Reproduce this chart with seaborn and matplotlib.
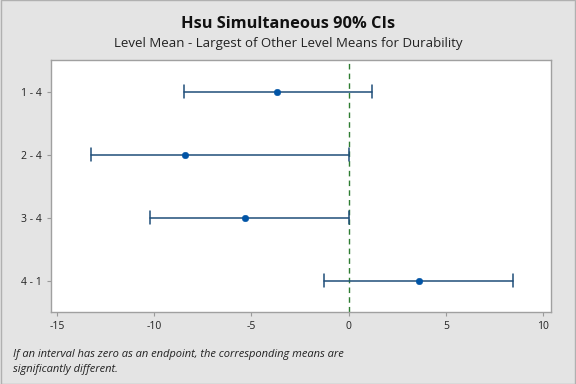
import numpy as np
import pandas as pd
import matplotlib
matplotlib.use("Agg")
import matplotlib.pyplot as plt
import seaborn as sns

# Hsu MCB intervals
labels = ["1 - 4", "2 - 4", "3 - 4", "4 - 1"]
centers = [-3.66, -8.40, -5.31, 3.61]
lower = [-8.45, -13.25, -10.20, -1.24]
upper = [1.19, 0.0, 0.0, 8.45]
xticks = [-15, -10, -5, 0, 5, 10]

df = pd.DataFrame({"label": labels, "center": centers, "lower": lower, "upper": upper})
df["pos"] = np.arange(1, len(df) + 1)

sns.set_style("white")
plt.rcParams["font.family"] = ["Open Sans", "DejaVu Sans"]

line_color = "#1f4e79"
dot_color = "#0054a6"
bg = "#e4e4e4"

fig = plt.figure(figsize=(5.76, 3.84), dpi=100, facecolor=bg)
ax = fig.add_axes([0.0885, 0.1875, 0.868, 0.656])
ax.set_facecolor("white")

cap = 0.1
for _, r in df.iterrows():
    ax.plot([r["lower"], r["upper"]], [r["pos"], r["pos"]], color=line_color, lw=1.1)
    ax.plot([r["lower"]] * 2, [r["pos"] - cap, r["pos"] + cap], color=line_color, lw=1.1)
    ax.plot([r["upper"]] * 2, [r["pos"] - cap, r["pos"] + cap], color=line_color, lw=1.1)

sns.scatterplot(data=df, x="center", y="pos", ax=ax, color=dot_color, s=22,
                edgecolor=dot_color, zorder=3, legend=False)

ax.axvline(0, color="#2e7d32", lw=1.0, ls=(0, (4, 3)), zorder=1)

ax.set_xlim(-15.3, 10.4)
ax.set_ylim(4.5, 0.5)
ax.set_xticks(xticks)
ax.set_xticklabels([str(t) for t in xticks])
ax.set_yticks(df["pos"])
ax.set_yticklabels(labels)
ax.set_xlabel("")
ax.set_ylabel("")
ax.tick_params(axis="both", labelsize=7.5, length=3, width=0.8,
               direction="out", left=True, bottom=True,
               colors="#9a9a9a", labelcolor="#222222")
for sp in ax.spines.values():
    sp.set_color("#a0a0a0")
    sp.set_linewidth(1.0)

fig.text(0.5, 0.937, "Hsu Simultaneous 90% CIs", ha="center", va="center",
         fontsize=11.8, fontweight="bold", color="#111111")
fig.text(0.5, 0.887, "Level Mean - Largest of Other Level Means for Durability",
         ha="center", va="center", fontsize=9.5, color="#222222")
fig.text(0.022, 0.057, "If an interval has zero as an endpoint, the corresponding means are\nsignificantly different.",
         ha="left", va="center", fontsize=8, style="italic", color="#222222", linespacing=1.45)

# outer border
fig.patches.append(plt.Rectangle((0.001, 0.001), 0.998, 0.998, transform=fig.transFigure,
                                 fill=False, edgecolor="#b0b0b0", lw=1.0))

fig.savefig("out.png", dpi=100, facecolor=bg)
